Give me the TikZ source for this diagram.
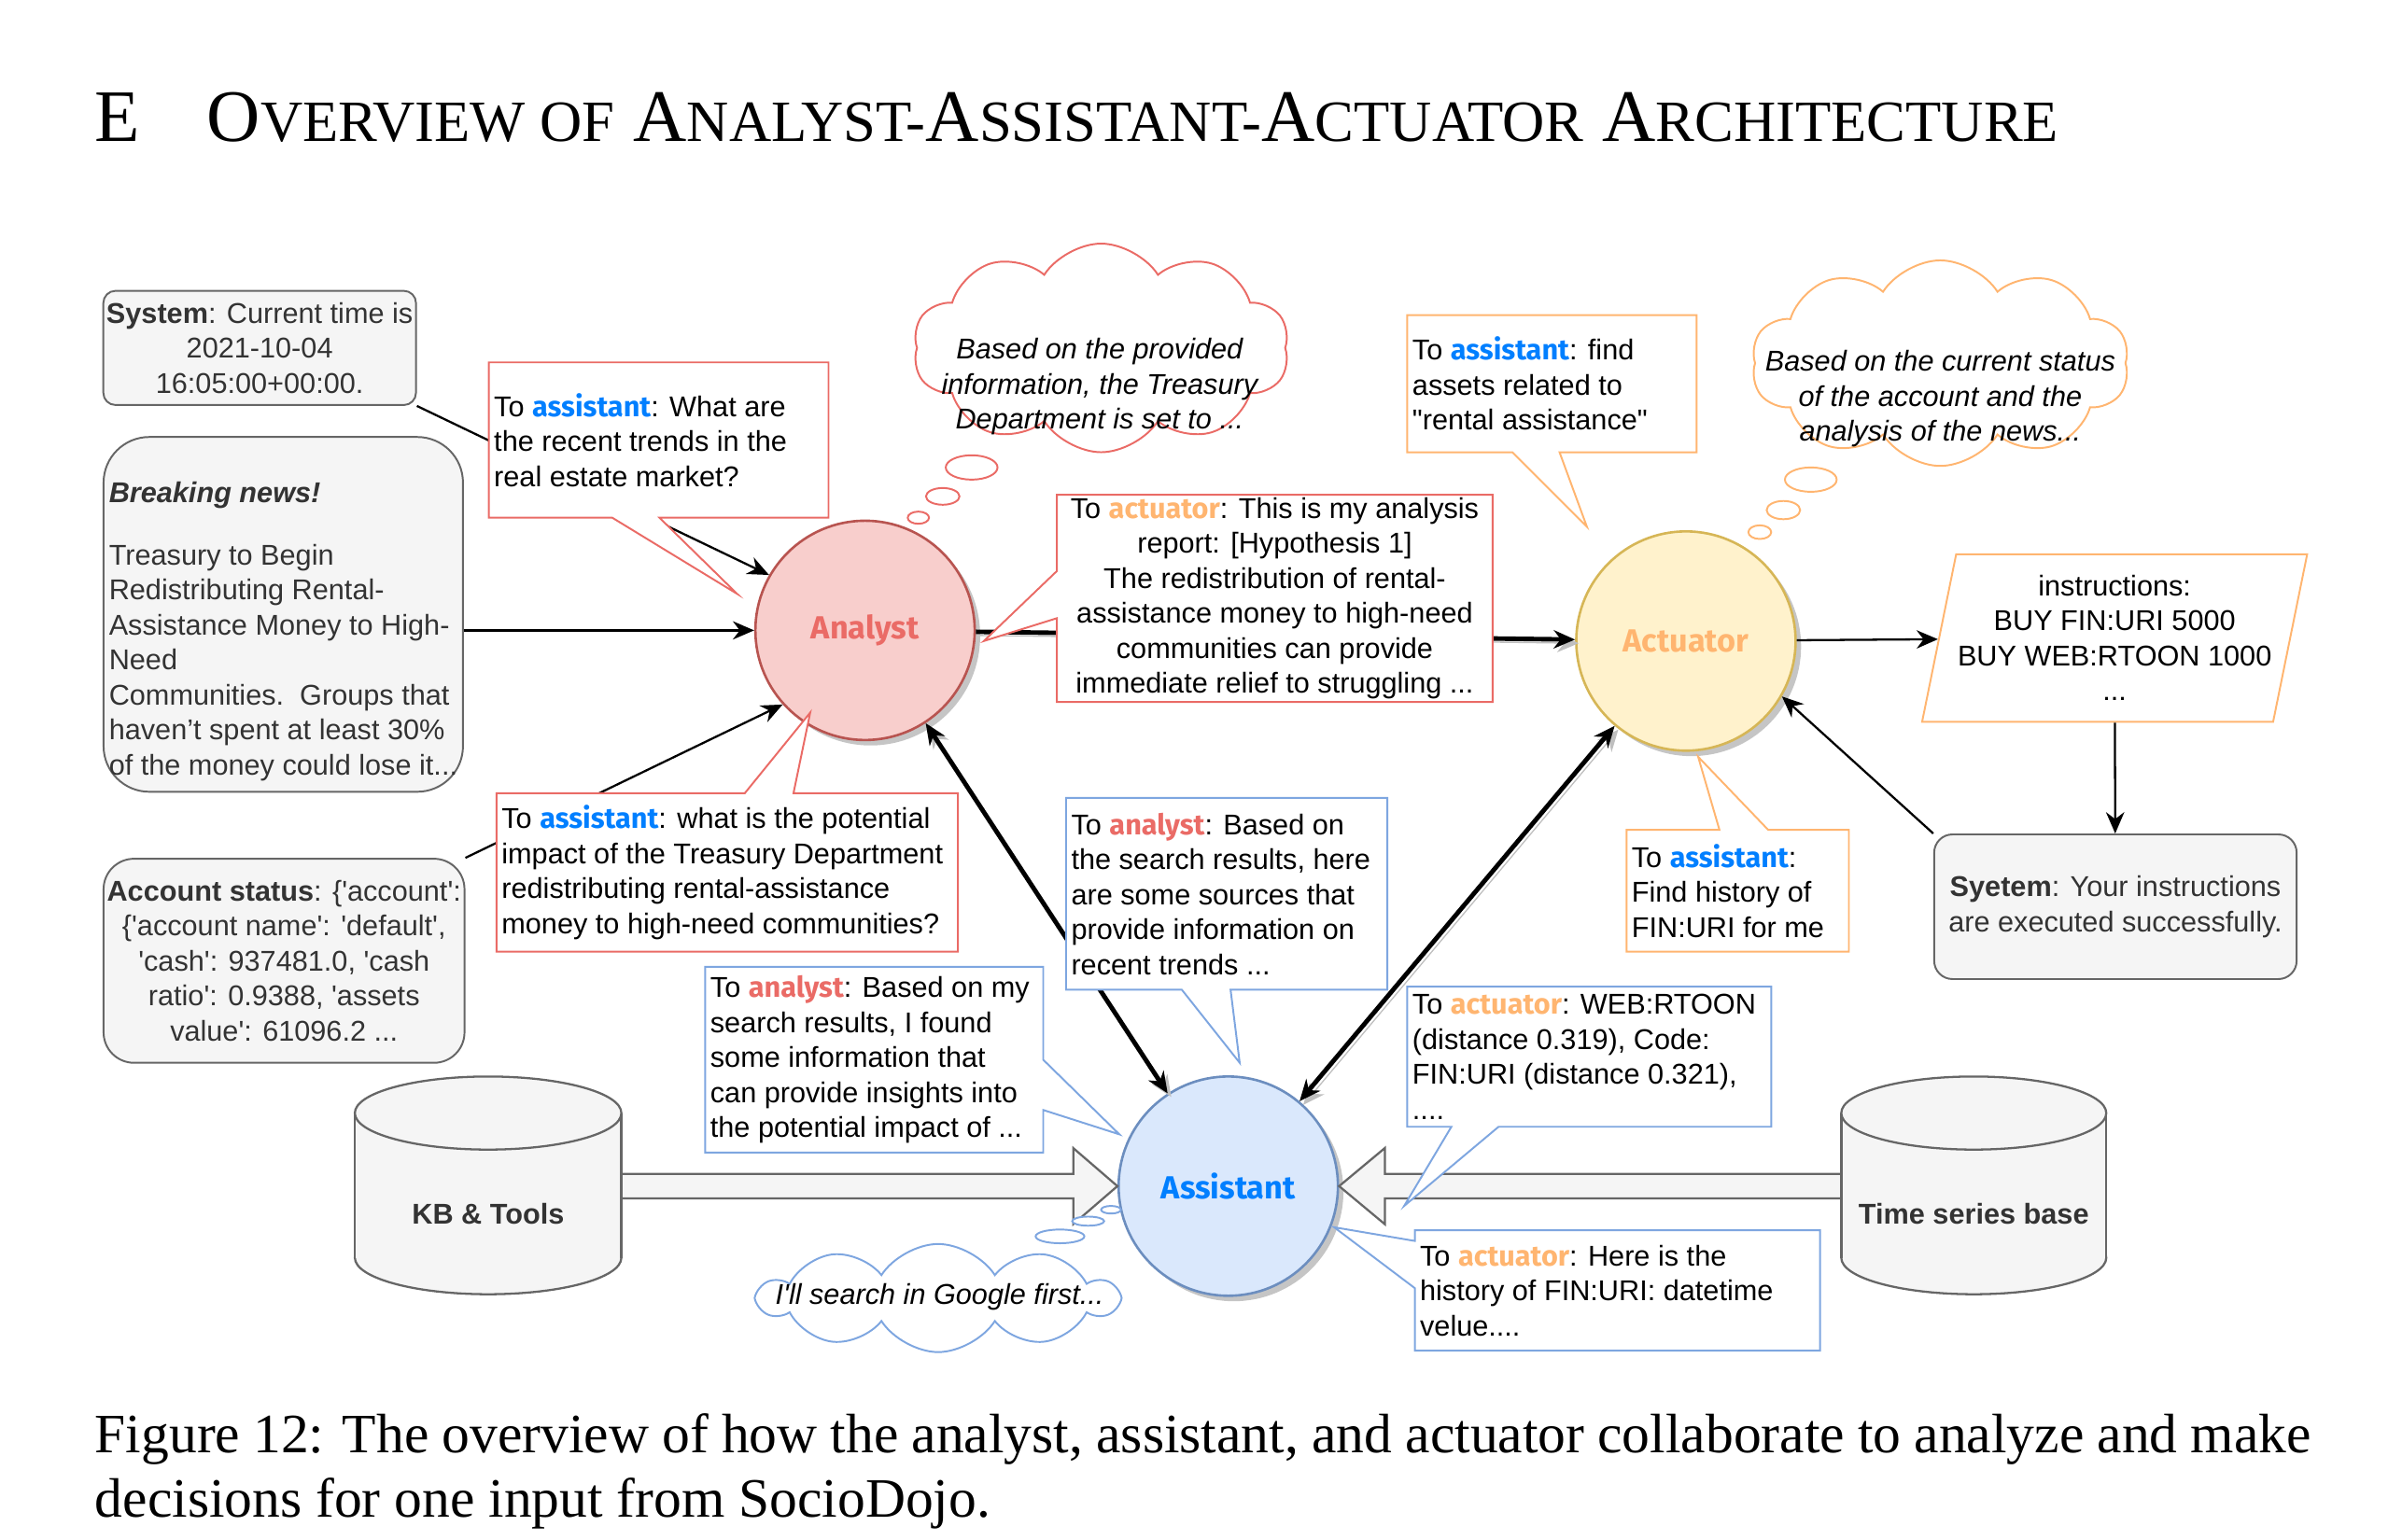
\documentclass[tikz,border=0pt]{standalone}
\usepackage{fontspec}
\setmainfont{Liberation Sans}
\newfontfamily\timesfont{Liberation Serif}
\newfontfamily\comicfont{Fira Sans}
\usetikzlibrary{arrows.meta,calc,positioning,shapes.geometric,shapes.symbols,shadows}

\definecolor{redline}{HTML}{EA6B66}
\definecolor{orangeline}{HTML}{FFB570}
\definecolor{blueline}{HTML}{7EA6E0}
\definecolor{anafill}{HTML}{F8CECC}
\definecolor{anadraw}{HTML}{B85450}
\definecolor{actfill}{HTML}{FFF2CC}
\definecolor{actdraw}{HTML}{D6B656}
\definecolor{astfill}{HTML}{DAE8FC}
\definecolor{astdraw}{HTML}{6C8EBF}
\definecolor{astword}{HTML}{007FFF}
\definecolor{boxfill}{HTML}{F5F5F5}
\definecolor{boxdraw}{HTML}{666666}
\definecolor{boxtext}{HTML}{333333}

\newcommand{\wAssistant}{{\comicfont\bfseries\color{astword}assistant}}
\newcommand{\wActuator}{{\comicfont\bfseries\color{orangeline}actuator}}
\newcommand{\wAnalyst}{{\comicfont\bfseries\color{redline}analyst}}
\newcommand{\sq}{\textquotesingle}
\newcommand{\smallcap}[1]{{\fontsize{19.2}{22}\selectfont #1}}

\tikzset{
  >={Stealth[length=7pt,width=6pt]},
  agent/.style={circle, minimum size=72pt, inner sep=0pt, line width=0.8pt,
    font=\comicfont\bfseries\fontsize{10.5}{12}\selectfont,
    drop shadow={shadow xshift=1.8pt, shadow yshift=-1.8pt, fill=black!45, opacity=0.5}},
  sysbox/.style={draw=boxdraw, fill=boxfill, text=boxtext, line width=0.6pt, inner sep=1pt},
  say/.style={line width=0.6pt, fill=white},
  saytext/.style={anchor=west, align=left, inner sep=0pt},
  think/.style={cloud, cloud puffs=10, cloud puff arc=115, cloud ignores aspect,
    fill=white, line width=0.6pt, inner sep=0pt},
  thinktext/.style={font=\itshape, align=center, inner sep=0pt},
  bubble/.style={fill=white, line width=0.6pt},
  link/.style={->, line width=0.7pt},
  flow/.style={line width=1.5pt,
    preaction={draw=black!25, transform canvas={shift={(1.2pt,-1.2pt)}}}},
  block/.style={draw=boxdraw, fill=boxfill, line width=0.7pt},
  dbtext/.style={font=\bfseries, text=boxtext, inner sep=0pt},
}

\begin{document}
\fontsize{9.4}{11.5}\selectfont
\begin{tikzpicture}[x=0.5pt, y=-0.5pt]
  \useasboundingbox (0,0) rectangle (1568,1011);

  % heading and caption
  \node[anchor=base west, inner sep=0pt, font=\timesfont\fontsize{24.3}{28}\selectfont] (title) at (62,93)
    {E\hspace{22pt}O\smallcap{VERVIEW OF} A\smallcap{NALYST-}A\smallcap{SSISTANT-}A\smallcap{CTUATOR} A\smallcap{RCHITECTURE}};
  \node[anchor=north west, inner sep=0pt, align=left, font=\timesfont\fontsize{18.25}{21}\selectfont] (caption) at (62,928)
    {\makebox[727.5pt][s]{Figure 12: The overview of how the analyst, assistant, and actuator collaborate to analyze and make}\\decisions for one input from SocioDojo.};

  % agents
  \node[agent, fill=anafill, draw=anadraw, text=redline]    (analyst)  at (568,414)   {Analyst};
  \node[agent, fill=actfill, draw=actdraw, text=orangeline] (actuator) at (1107,421)  {Actuator};
  \node[agent, fill=astfill, draw=astdraw, text=astword]    (asst)     at (806.5,779) {Assistant};

  % inputs and system messages
  \node[sysbox, rounded corners=4pt, minimum width=102.5pt, minimum height=37.5pt, align=center] (sys) at (170.5,228.5)
    {\textbf{System}: Current time is\\2021-10-04\\16:05:00+00:00.};
  \node[sysbox, rounded corners=15pt, minimum width=118pt, minimum height=116.5pt, align=left] (news) at (186,403.5)
    {\rule{0pt}{18pt}\textbf{\textit{Breaking news!}}\\[9pt]Treasury to Begin\\Redistributing Rental-\\Assistance Money to High-\\Need\\Communities.\ \ Groups that\\haven’t spent at least 30\%\\of the money could lose it...};
  \node[sysbox, rounded corners=10pt, minimum width=118.5pt, minimum height=67pt, align=center] (acct) at (186.5,631)
    {\textbf{Account status}: \{\sq account\sq:\\\{\sq account name\sq: \sq default\sq,\\\sq cash\sq: 937481.0, \sq cash\\ratio\sq: 0.9388, \sq assets\\value\sq: 61096.2 ...};
  \node[sysbox, rounded corners=6pt, minimum width=119pt, minimum height=47.5pt, align=center] (syetem) at (1389,595.5)
    {\textbf{Syetem}: Your instructions\\are executed successfully.};
  \node[trapezium, trapezium left angle=75, trapezium right angle=105, trapezium stretches=true,
        draw=orangeline, fill=white, line width=0.6pt, minimum width=126.5pt, minimum height=55pt,
        align=center, inner sep=0pt] (instr) at (1388.5,419)
    {instructions:\\BUY FIN:URI 5000\\BUY WEB:RTOON 1000\\...};

  % connectors
  \draw[link] (sys.south east) -- (analyst.150);
  \draw[link] (news.east |- analyst.west) -- (analyst.west);
  \draw[link] (acct.north east) -- (analyst.222);
  \draw[flow, ->] (analyst) -- (actuator);
  \draw[flow, <->] (analyst) -- (asst);
  \draw[flow, <->] (actuator) -- (asst);
  \draw[link] (actuator) -- (instr);
  \draw[link] (instr) -- (syetem);
  \draw[link] (syetem.north west) -- (actuator.330);

  % knowledge sources
  \coordinate (kbside)  at (408,779);
  \coordinate (tsbside) at (1209,779);
  \draw[block] ($(kbside)+(0,-8)$) -- ($(asst.west)+(-29,-8)$) -- ($(asst.west)+(-29,-25)$) -- (asst.west)
    -- ($(asst.west)+(-29,25)$) -- ($(asst.west)+(-29,8)$) -- ($(kbside)+(0,8)$) -- cycle;
  \draw[block] ($(tsbside)+(0,-8)$) -- ($(asst.east)+(30,-8)$) -- ($(asst.east)+(30,-25)$) -- (asst.east)
    -- ($(asst.east)+(30,25)$) -- ($(asst.east)+(30,8)$) -- ($(tsbside)+(0,8)$) -- cycle;

  \draw[block] (320.5,826) ellipse [x radius=87.5, y radius=24];
  \fill[boxfill] (233,731) rectangle (408,826);
  \draw[boxdraw, line width=0.7pt] (233,731) -- (233,826) (408,731) -- (408,826);
  \draw[block] (320.5,731) ellipse [x radius=87.5, y radius=24];
  \node[dbtext] (kb) at (320.5,797) {KB \& Tools};

  \draw[block] (1296,826) ellipse [x radius=87, y radius=24];
  \fill[boxfill] (1209,731) rectangle (1383,826);
  \draw[boxdraw, line width=0.7pt] (1209,731) -- (1209,826) (1383,731) -- (1383,826);
  \draw[block] (1296,731) ellipse [x radius=87, y radius=24];
  \node[dbtext] (tsb) at (1296,797) {Time series base};

  % messages of the analyst
  \draw[say, draw=redline] (321,238) -- (544,238) -- (544,340) -- (433,340) -- (484,390) -- (402,340) -- (321,340) -- cycle;
  \node[saytext] (askTrend) at (324,289) {To \wAssistant: What are\\the recent trends in the\\real estate market?};

  \draw[say, draw=redline] (694,325) -- (980,325) -- (980,461) -- (694,461) -- (694,406) -- (646,421) -- (694,375) -- cycle;
  \node[align=center, inner sep=0pt] (report) at (837,393) {To \wActuator: This is my analysis\\report: [Hypothesis 1]\\The redistribution of rental-\\assistance money to high-need\\communities can provide\\immediate relief to struggling ...};

  \draw[say, draw=redline] (326,521) -- (489,521) -- (532,468) -- (521,521) -- (629,521) -- (629,625) -- (326,625) -- cycle;
  \node[saytext] (askImpact) at (329,573) {To \wAssistant: what is the potential\\impact of the Treasury Department\\redistributing rental-assistance\\money to high-need communities?};

  % messages of the actuator
  \draw[say, draw=orangeline] (924,207) -- (1114,207) -- (1114,297) -- (1024,297) -- (1042,346) -- (993,297) -- (924,297) -- cycle;
  \node[saytext] (askAssets) at (927,252) {To \wAssistant: find\\assets related to\\\textquotedbl rental assistance\textquotedbl};

  \draw[say, draw=orangeline] (1068,545) -- (1129,545) -- (1115,497) -- (1161,545) -- (1214,545) -- (1214,625) -- (1068,625) -- cycle;
  \node[saytext] (askHistory) at (1071,585) {To \wAssistant:\\Find history of\\FIN:URI for me};

  % messages of the assistant
  \draw[say, draw=blueline] (700,524) -- (911,524) -- (911,650) -- (808,650) -- (814,698) -- (776,650) -- (700,650) -- cycle;
  \node[saytext] (ansTrend) at (703,587) {To \wAnalyst: Based on\\the search results, here\\are some sources that\\provide information on\\recent trends ...};

  \draw[say, draw=blueline] (463,635) -- (685,635) -- (685,696) -- (735,745) -- (685,729) -- (685,757) -- (463,757) -- cycle;
  \node[saytext] (ansImpact) at (466,696) {To \wAnalyst: Based on my\\search results, I found\\some information that\\can provide insights into\\the potential impact of ...};

  \draw[say, draw=blueline] (924,648) -- (1163,648) -- (1163,740) -- (984,740) -- (922,792) -- (953,740) -- (924,740) -- cycle;
  \node[saytext] (ansAssets) at (927,694) {To \wActuator: WEB:RTOON\\(distance 0.319), Code:\\FIN:URI (distance 0.321),\\....};

  \draw[say, draw=blueline] (929,808) -- (1195,808) -- (1195,887) -- (929,887) -- (929,846) -- (876,806) -- (929,815) -- cycle;
  \node[saytext] (ansHistory) at (932,847.5) {To \wActuator: Here is the\\history of FIN:URI: datetime\\velue....};

  % thoughts
  \node[think, draw=redline, minimum width=123.5pt, minimum height=68.5pt] (thinkAna) at (723,228.5) {};
  \node[thinktext] (thinkAnaText) at (722,254) {Based on the provided\\information, the Treasury\\Department is set to ...};
  \draw[bubble, draw=redline] (638,307) ellipse [x radius=17, y radius=8];
  \draw[bubble, draw=redline] (619,326) ellipse [x radius=11, y radius=5.5];
  \draw[bubble, draw=redline] (603,340) ellipse [x radius=7, y radius=4];

  \node[think, draw=orangeline, minimum width=124pt, minimum height=67.5pt] (thinkAct) at (1274,238.5) {};
  \node[thinktext] (thinkActText) at (1274,262) {Based on the current status\\of the account and the\\analysis of the news...};
  \draw[bubble, draw=orangeline] (1189,315) ellipse [x radius=17, y radius=8];
  \draw[bubble, draw=orangeline] (1171,335) ellipse [x radius=11, y radius=6];
  \draw[bubble, draw=orangeline] (1155.5,349.5) ellipse [x radius=7.5, y radius=4.5];

  \node[think, draw=blueline, minimum width=117.3pt, minimum height=35.5pt] (thinkAst) at (616,852.5) {};
  \node[thinktext] (thinkAstText) at (617,852) {I\sq ll search in Google first...};
  \draw[bubble, draw=blueline] (696,812) ellipse [x radius=16, y radius=4.5];
  \draw[bubble, draw=blueline] (714.5,802) ellipse [x radius=10.5, y radius=3];
  \draw[bubble, draw=blueline] (729.5,794.5) ellipse [x radius=6.5, y radius=2.5];
\end{tikzpicture}
\end{document}
